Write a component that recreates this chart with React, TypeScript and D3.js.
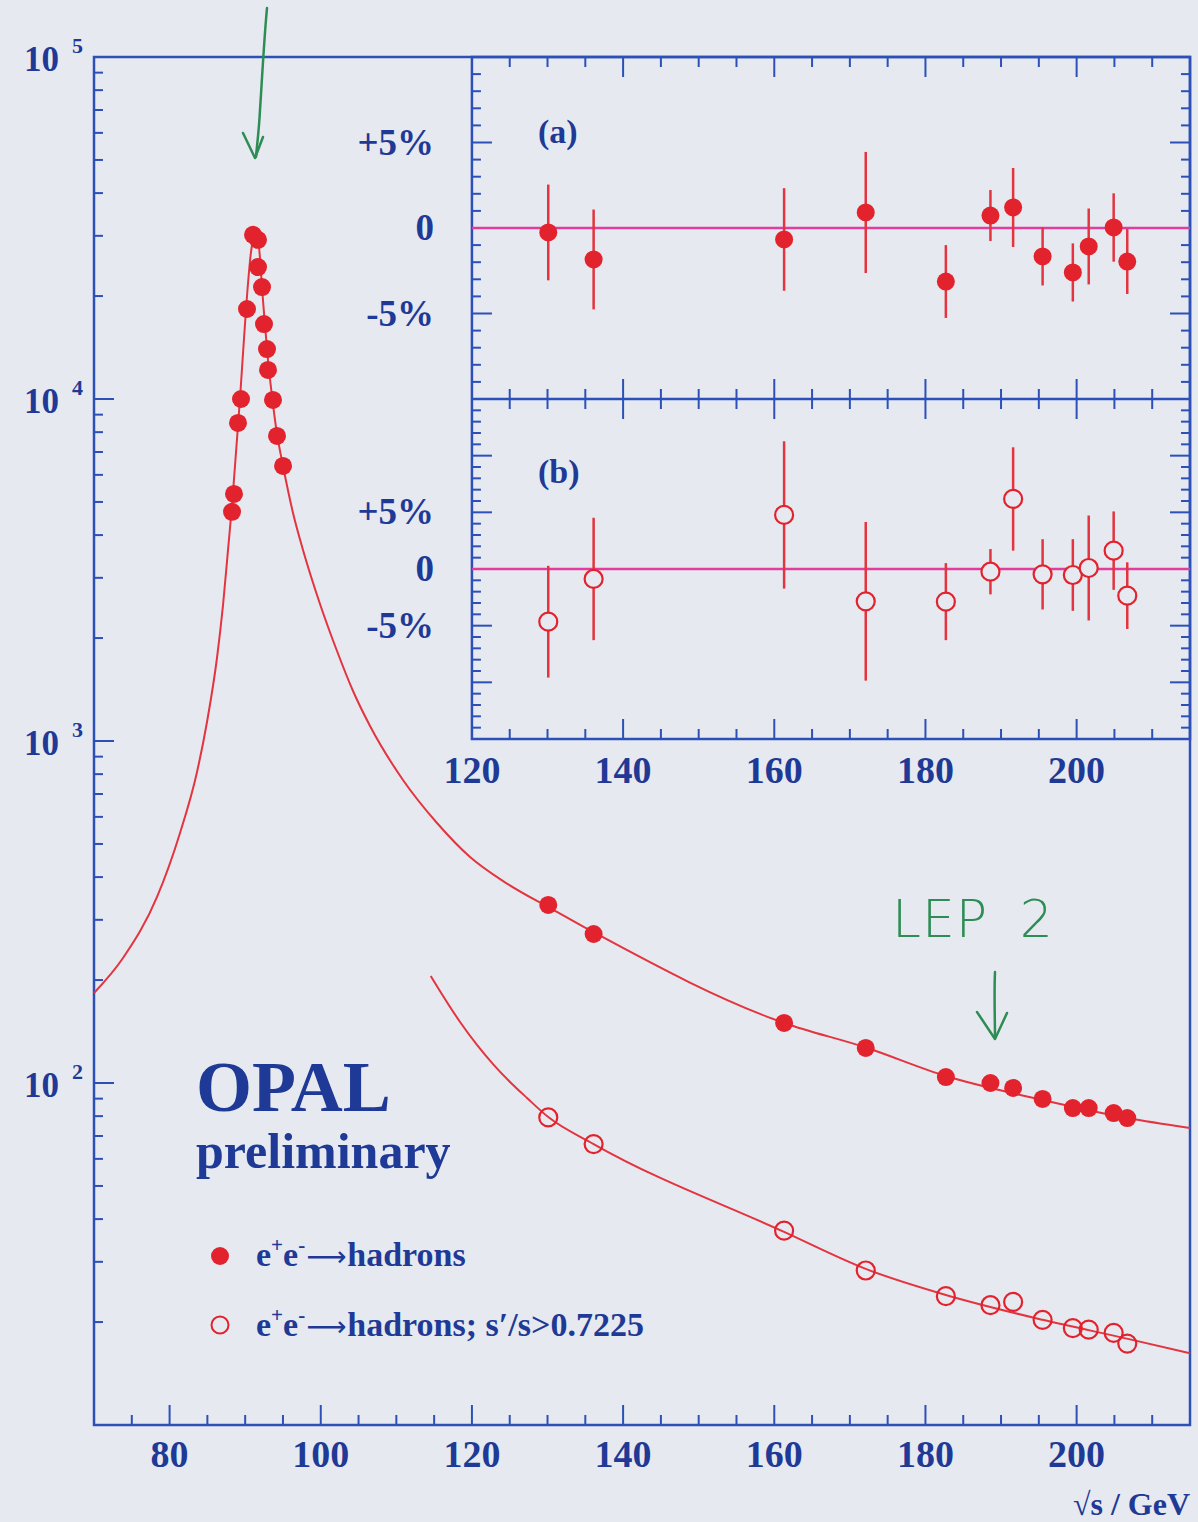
import React from "react";
import * as d3 from "d3";

const W = 1198;
const H = 1522;

// ---------- data ----------
// LEP1 Z-peak scan, e+e- -> hadrons (pb)
const lep1Energy = [88.26, 88.52, 89.05, 89.45, 90.24, 91.04, 91.7, 91.7, 92.23, 92.49, 92.89, 93.02, 93.68, 94.21, 95.01];
const lep1Sigma = [4677, 5277, 8511, 10000, 18330, 30200, 29200, 24300, 21250, 16560, 14000, 12160, 9934, 7800, 6370];

// LEP2 energies
const lep2Energy = [130.1, 136.1, 161.3, 172.1, 182.7, 188.6, 191.6, 195.5, 199.5, 201.6, 204.9, 206.7];
// e+e- -> hadrons (all)
const lep2Sigma = [331.6, 272.7, 149.8, 126.6, 104.1, 100.0, 96.7, 89.8, 84.5, 84.5, 81.7, 79.0];
// e+e- -> hadrons; s'/s > 0.7225
const lep2SigmaExcl = [79.3, 66.3, 37.0, 28.3, 23.8, 22.4, 22.9, 20.3, 19.2, 19.0, 18.6, 17.3];

// relative deviations from prediction (%), panel (a) and (b)
const devA = [-0.26, -1.84, -0.67, 0.91, -3.13, 0.73, 1.2, -1.66, -2.6, -1.08, 0.03, -1.96];
const errA = [2.8, 2.92, 3.0, 3.54, 2.13, 1.49, 2.31, 1.7, 1.7, 2.22, 2.0, 1.9];
const devB = [-4.65, -0.88, 4.77, -2.85, -2.88, -0.24, 6.18, -0.47, -0.53, 0.09, 1.62, -2.35];
const errB = [4.93, 5.4, 6.5, 7.0, 3.4, 2.0, 4.56, 3.1, 3.16, 4.63, 3.46, 2.94];

// Standard Model curves (sampled along the drawn lines)
const fitAllE = [70.0, 73.84, 78.34, 81.38, 83.63, 84.95, 86.27, 87.07, 87.73, 88.26, 88.79, 89.32, 89.85, 90.38, 90.77, 91.17, 91.57, 91.96, 92.23, 92.62, 93.02, 93.55, 94.21, 95.01, 96.33, 97.65, 99.9, 102.15, 104.27, 106.52, 110.88, 115.38, 119.75, 124.12, 128.61, 130.1, 136.1, 161.3, 172.1, 182.7, 195.5, 206.7, 215];
const fitAllSigma = [183.3, 232.1, 349.9, 538.3, 811.9, 1136.6, 1748.6, 2498.6, 3619, 4898, 6998, 10067, 15082, 21840, 26900, 29770, 30380, 25840, 21120, 16460, 13000, 10200, 7903, 6370, 4642, 3619, 2516, 1833, 1400, 1106, 769, 575.7, 458, 389.5, 340.6, 327, 276, 149.8, 127.0, 104.8, 89.2, 79.0, 73.9];
const fitExclE = [114.55, 116.18, 118.43, 120.67, 122.79, 125.04, 127.29, 130.1, 136.1, 161.3, 172.1, 182.7, 195.5, 207.07, 215];
const fitExclSigma = [205.6, 179.7, 150.8, 129.2, 113.6, 100.7, 90.4, 79.5, 66.3, 36.7, 28.6, 24.0, 20.3, 17.8, 16.2];

// tick labels
const xTickLabelsMain = [80, 100, 120, 140, 160, 180, 200];
const xTickLabelsInset = [120, 140, 160, 180, 200];
const yDecadeExponents = [5, 4, 3, 2];
const pctTicks = [
  { v: 5, t: "+5%" },
  { v: 0, t: "0" },
  { v: -5, t: "-5%" },
];

// ---------- style ----------
const BG = "#e6eaf0";
const AXIS = "#2c50b8";
const TEXT = "#1f3a96";
const RED = "#e2222d";
const RED_LINE = "#e3343f";
const MAGENTA = "#e23d9e";
const GREEN = "#2e8c55";
const SERIF = "'Liberation Serif', 'Times New Roman', serif";
const ARROWFONT = "'DejaVu Sans', sans-serif";

export default function App() {
  const x = d3.scaleLinear().domain([70, 215]).range([94, 1190]);
  const y = d3.scaleLog().domain([10, 1e5]).range([1425, 57]);
  const yA = d3.scaleLinear().domain([-10, 10]).range([399, 57]);
  const yB = d3.scaleLinear().domain([-15, 15]).range([739, 399]);

  const left = x(70);
  const right = x(215);
  const top = y(1e5);
  const bottom = y(10);
  const insetLeft = x(120);

  const line = d3
    .line<[number, number]>()
    .x((d) => x(d[0]))
    .y((d) => y(d[1]))
    .curve(d3.curveMonotoneX);

  const fitAll = line(fitAllE.map((e, i) => [e, fitAllSigma[i]] as [number, number])) || "";
  const fitExcl = line(fitExclE.map((e, i) => [e, fitExclSigma[i]] as [number, number])) || "";

  // ticks
  const ticks: JSX.Element[] = [];
  let k = 0;
  for (let d = 10; d < 1e5; d *= 10) {
    for (let m = 1; m <= 9; m++) {
      const v = d * m;
      if (v === 10) continue;
      const len = m === 1 ? 20 : 9;
      ticks.push(<line key={k++} x1={left} x2={left + len} y1={y(v)} y2={y(v)} stroke={AXIS} strokeWidth={2} />);
    }
  }
  for (let e = 75; e <= 210; e += 5) {
    const len = e % 20 === 0 ? 20 : 10;
    ticks.push(<line key={k++} x1={x(e)} x2={x(e)} y1={bottom} y2={bottom - len} stroke={AXIS} strokeWidth={2} />);
  }
  for (let e = 125; e <= 210; e += 5) {
    const len = e % 20 === 0 ? 20 : 10;
    const xe = x(e);
    ticks.push(<line key={k++} x1={xe} x2={xe} y1={yA(10)} y2={yA(10) + len} stroke={AXIS} strokeWidth={2} />);
    ticks.push(<line key={k++} x1={xe} x2={xe} y1={yA(-10)} y2={yA(-10) - len} stroke={AXIS} strokeWidth={2} />);
    ticks.push(<line key={k++} x1={xe} x2={xe} y1={yB(15)} y2={yB(15) + len} stroke={AXIS} strokeWidth={2} />);
    ticks.push(<line key={k++} x1={xe} x2={xe} y1={yB(-15)} y2={yB(-15) - len} stroke={AXIS} strokeWidth={2} />);
  }
  for (let v = -9; v <= 9; v++) {
    const len = v % 5 === 0 ? 20 : 9;
    ticks.push(<line key={k++} x1={insetLeft} x2={insetLeft + len} y1={yA(v)} y2={yA(v)} stroke={AXIS} strokeWidth={2} />);
    ticks.push(<line key={k++} x1={right} x2={right - len} y1={yA(v)} y2={yA(v)} stroke={AXIS} strokeWidth={2} />);
  }
  for (let v = -14; v <= 14; v++) {
    const len = v % 5 === 0 ? 20 : 9;
    ticks.push(<line key={k++} x1={insetLeft} x2={insetLeft + len} y1={yB(v)} y2={yB(v)} stroke={AXIS} strokeWidth={2} />);
    ticks.push(<line key={k++} x1={right} x2={right - len} y1={yB(v)} y2={yB(v)} stroke={AXIS} strokeWidth={2} />);
  }

  const supStyle = { fontSize: 21 };

  const legendLabel = (rest: string) => (
    <>
      e<tspan dy={-14} style={supStyle}>+</tspan>
      <tspan dy={14}>e</tspan>
      <tspan dy={-14} style={supStyle}>-</tspan>
      <tspan dy={14} dx={1} style={{ fontFamily: ARROWFONT, fontWeight: 400, fontSize: 28 }}>⟶</tspan>
      <tspan dx={1}>{rest}</tspan>
    </>
  );

  return (
    <div style={{ position: "absolute", left: 0, top: 0 }}>
      <svg width={W} height={H} viewBox={`0 0 ${W} ${H}`} style={{ display: "block" }}>
        <rect x={0} y={0} width={W} height={H} fill={BG} />

        {/* main frame */}
        <rect x={left} y={top} width={right - left} height={bottom - top} fill="none" stroke={AXIS} strokeWidth={2.5} />
        {/* inset frame */}
        <rect x={insetLeft} y={yA(10)} width={right - insetLeft} height={yB(-15) - yA(10)} fill="none" stroke={AXIS} strokeWidth={2.5} />
        <line x1={insetLeft} x2={right} y1={yA(-10)} y2={yA(-10)} stroke={AXIS} strokeWidth={2.5} />
        {ticks}

        {/* main y labels */}
        {yDecadeExponents.map((ex) => {
          const ty = y(Math.pow(10, ex));
          return (
            <g key={ex} fontFamily={SERIF} fontWeight="bold" fill={TEXT}>
              <text x={59} y={ty + 14} fontSize={35} textAnchor="end">10</text>
              <text x={72} y={ty - 4} fontSize={22}>{ex}</text>
            </g>
          );
        })}
        {/* main x labels */}
        {xTickLabelsMain.map((e) => (
          <text key={e} x={x(e)} y={1467} fontFamily={SERIF} fontWeight="bold" fontSize={38} fill={TEXT} textAnchor="middle">
            {e}
          </text>
        ))}
        <text x={1190} y={1515} fontFamily={SERIF} fontWeight="bold" fontSize={32} fill={TEXT} textAnchor="end">
          √s / GeV
        </text>

        {/* inset x labels */}
        {xTickLabelsInset.map((e) => (
          <text key={e} x={x(e)} y={783} fontFamily={SERIF} fontWeight="bold" fontSize={38} fill={TEXT} textAnchor="middle">
            {e}
          </text>
        ))}
        {/* inset y labels */}
        {pctTicks.map((p) => (
          <text key={"a" + p.v} x={434} y={yA(p.v) + 12} fontFamily={SERIF} fontWeight="bold" fontSize={37} fill={TEXT} textAnchor="end">
            {p.t}
          </text>
        ))}
        {pctTicks.map((p) => (
          <text key={"b" + p.v} x={434} y={yB(p.v) + 12} fontFamily={SERIF} fontWeight="bold" fontSize={37} fill={TEXT} textAnchor="end">
            {p.t}
          </text>
        ))}
        <text x={538} y={143} fontFamily={SERIF} fontWeight="bold" fontSize={34} fill={TEXT}>(a)</text>
        <text x={538} y={483} fontFamily={SERIF} fontWeight="bold" fontSize={34} fill={TEXT}>(b)</text>

        {/* zero lines */}
        <line x1={insetLeft} x2={right} y1={yA(0)} y2={yA(0)} stroke={MAGENTA} strokeWidth={2.5} />
        <line x1={insetLeft} x2={right} y1={yB(0)} y2={yB(0)} stroke={MAGENTA} strokeWidth={2.5} />

        {/* panel (a) */}
        {lep2Energy.map((e, i) => (
          <g key={"pa" + i}>
            <line x1={x(e)} x2={x(e)} y1={yA(devA[i] - errA[i])} y2={yA(devA[i] + errA[i])} stroke={RED_LINE} strokeWidth={2.5} />
            <circle cx={x(e)} cy={yA(devA[i])} r={9} fill={RED} />
          </g>
        ))}
        {/* panel (b) */}
        {lep2Energy.map((e, i) => (
          <g key={"pb" + i}>
            <line x1={x(e)} x2={x(e)} y1={yB(devB[i] - errB[i])} y2={yB(devB[i] + errB[i])} stroke={RED_LINE} strokeWidth={2.5} />
            <circle cx={x(e)} cy={yB(devB[i])} r={9} fill={BG} stroke={RED} strokeWidth={2.2} />
          </g>
        ))}

        {/* main curves */}
        <path d={fitAll} fill="none" stroke={RED_LINE} strokeWidth={2} />
        <path d={fitExcl} fill="none" stroke={RED_LINE} strokeWidth={2} />

        {/* main points */}
        {lep1Energy.map((e, i) => (
          <circle key={"l1" + i} cx={x(e)} cy={y(lep1Sigma[i])} r={9} fill={RED} />
        ))}
        {lep2Energy.map((e, i) => (
          <circle key={"l2" + i} cx={x(e)} cy={y(lep2Sigma[i])} r={9} fill={RED} />
        ))}
        {lep2Energy.map((e, i) => (
          <circle key={"l2x" + i} cx={x(e)} cy={y(lep2SigmaExcl[i])} r={9} fill="none" stroke={RED} strokeWidth={2.2} />
        ))}

        {/* OPAL label and legend */}
        <text x={196} y={1111} fontFamily={SERIF} fontWeight="bold" fontSize={72} fill={TEXT}>OPAL</text>
        <text x={196} y={1168} fontFamily={SERIF} fontWeight="bold" fontSize={50} fill={TEXT}>preliminary</text>

        <circle cx={220} cy={1256} r={9} fill={RED} />
        <text x={256} y={1266} fontFamily={SERIF} fontWeight="bold" fontSize={34} fill={TEXT}>
          {legendLabel("hadrons")}
        </text>
        <circle cx={220} cy={1325} r={8.5} fill="none" stroke={RED} strokeWidth={2} />
        <text x={256} y={1336} fontFamily={SERIF} fontWeight="bold" fontSize={34} fill={TEXT}>
          {legendLabel("hadrons; s′/s>0.7225")}
        </text>

        {/* handwritten green annotations */}
        <path d="M267,8 C264,40 262,80 260,110 C259,130 257,145 256,157" fill="none" stroke={GREEN} strokeWidth={2.5} strokeLinecap="round" />
        <path d="M243,133 L255,158 L263,137" fill="none" stroke={GREEN} strokeWidth={2.5} strokeLinecap="round" strokeLinejoin="round" />
        <text x={892} y={937} fontFamily="'DejaVu Sans', sans-serif" fontWeight={200} fontSize={52} fill={GREEN} letterSpacing={1} wordSpacing={14}>
          LEP 2
        </text>
        <path d="M995,972 C994,995 995,1020 995,1038" fill="none" stroke={GREEN} strokeWidth={2.5} strokeLinecap="round" />
        <path d="M977,1012 L995,1039 L1007,1013" fill="none" stroke={GREEN} strokeWidth={2.5} strokeLinecap="round" strokeLinejoin="round" />
      </svg>
    </div>
  );
}
